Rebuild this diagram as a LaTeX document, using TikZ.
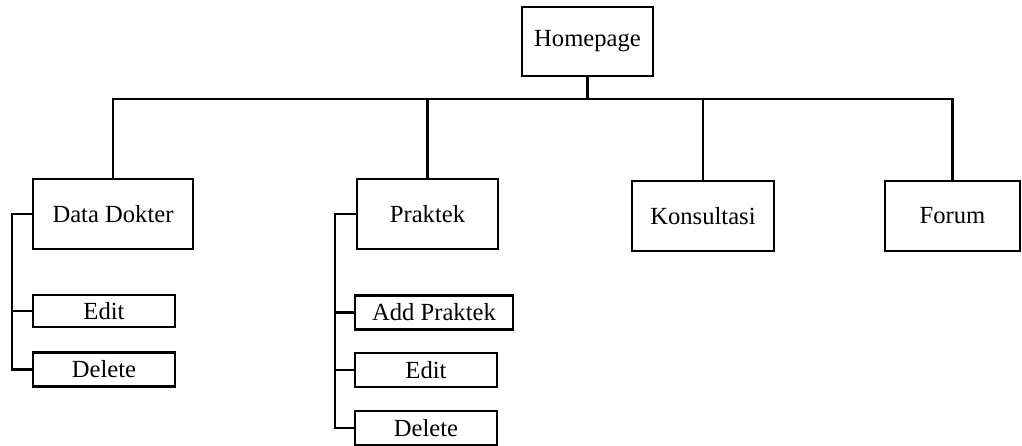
\documentclass[tikz,border=0pt]{standalone}
\usepackage{fontspec}
\setmainfont{Liberation Serif}
\usepackage{tikz}

\begin{document}
\begin{tikzpicture}[x=0.025cm,y=-0.025cm,
		menu/.style={draw,line width=1.5pt,inner sep=0pt,minimum width=#1*0.025cm},
		big/.style={menu=#1,minimum height=70*0.025cm},
		small/.style={menu=#1,minimum height=34*0.025cm},
		link/.style={line width=1.5pt}]
			\useasboundingbox (0,0) rectangle (1022,446);
			\fontsize{17.5}{21}\selectfont
			\node [menu=131,minimum height=69*0.025cm] (home) at (587.5,41.5) {Homepage};
			\node [big=160] (dokter) at (113,214) {Data Dokter};
			\node [big=141] (praktek) at (427.5,214) {Praktek};
			\node [big=142] (konsul) at (703,216) {Konsultasi};
			\node [big=135] (forum) at (952.5,216) {Forum};
			\node [small=142,minimum height=32*0.025cm] (dedit) at (104,311) {Edit};
			\node [small=142] (ddelete) at (104,369.5) {Delete};
			\node [small=158] (padd) at (434,312.5) {Add Praktek};
			\node [small=142] (pedit) at (426,370) {Edit};
			\node [small=142] (pdelete) at (426,428) {Delete};
			\coordinate (bus) at (0,99);
			\coordinate (dline) at (12,0);
			\coordinate (pline) at (335,0);
			\draw [link] (home.south) -- (home.south |- bus);
			\draw [link] (dokter.north) |- (bus -| forum.north) -- (forum.north);
			\draw [link] (praktek.north) -- (praktek.north |- bus);
			\draw [link] (konsul.north) -- (konsul.north |- bus);
			\draw [link] (dokter.west) -- (dokter.west -| dline) |- (ddelete.west);
			\draw [link] (dedit.west) -- (dedit.west -| dline);
			\draw [link] (praktek.west) -- (praktek.west -| pline) |- (pdelete.west);
			\draw [link] (padd.west) -- (padd.west -| pline);
			\draw [link] (pedit.west) -- (pedit.west -| pline);
		\end{tikzpicture}
\end{document}
